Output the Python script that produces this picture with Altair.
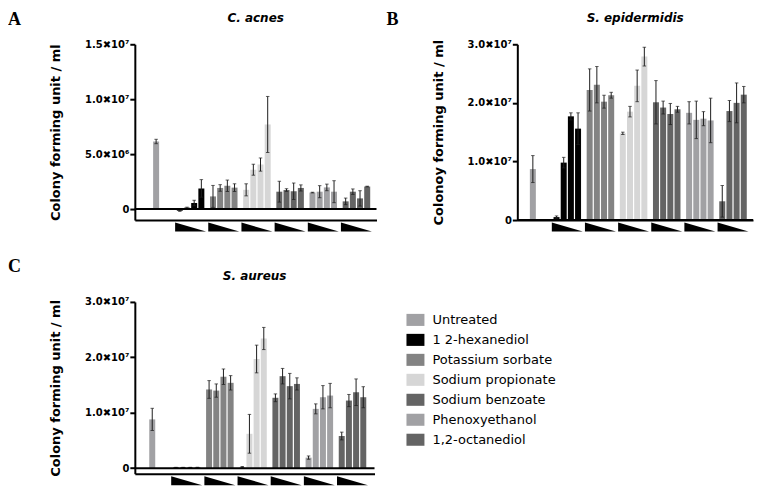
import altair as alt
import pandas as pd

# ---------------- data ----------------
CATEGORIES = ["Untreated", "1 2-hexanediol", "Potassium sorbate", "Sodium propionate",
              "Sodium benzoate", "Phenoxyethanol", "1,2-octanediol"]
COLORS = ["#a1a1a4", "#000000", "#838383", "#d6d6d6", "#646464", "#a1a1a4", "#646464"]

# Panel A: C. acnes  (values in units of 1e6 CFU/ml)
A_UNIT = 1e6
A_UNTREATED = 6.15
A_UNTREATED_ERR = 0.2
A_MEANS = [
    [-0.15, 0.12, 0.55, 1.88],   # 1 2-hexanediol
    [1.15, 1.92, 2.12, 1.95],    # Potassium sorbate
    [1.75, 3.58, 4.05, 7.70],    # Sodium propionate
    [1.58, 1.73, 1.62, 1.92],    # Sodium benzoate
    [1.50, 1.58, 1.97, 1.58],    # Phenoxyethanol
    [0.70, 1.58, 0.97, 2.05],    # 1,2-octanediol
]
A_ERRS = [
    [0.06, 0.05, 0.25, 0.80],
    [1.00, 0.30, 0.52, 0.35],
    [0.55, 0.50, 0.60, 2.55],
    [0.95, 0.12, 0.75, 0.28],
    [0.03, 0.55, 0.30, 1.00],
    [0.30, 0.25, 0.70, 0.03],
]
A_TICKS = [0, 5000000, 10000000, 15000000]
A_TICK_LABELS = ["0", "5.0✖10⁶", "1.0✖10⁷", "1.5✖10⁷"]

# Panel B: S. epidermidis (units of 1e7 CFU/ml)
B_UNIT = 1e7
B_UNTREATED = 0.87
B_UNTREATED_ERR = 0.23
B_MEANS = [
    [0.05, 0.98, 1.77, 1.56],
    [2.22, 2.31, 2.02, 2.13],
    [1.48, 1.85, 2.29, 2.79],
    [2.01, 1.92, 1.81, 1.89],
    [1.83, 1.71, 1.73, 1.70],
    [0.32, 1.86, 2.00, 2.14],
]
B_ERRS = [
    [0.02, 0.09, 0.06, 0.27],
    [0.36, 0.31, 0.11, 0.05],
    [0.02, 0.09, 0.27, 0.16],
    [0.37, 0.11, 0.18, 0.05],
    [0.19, 0.32, 0.12, 0.38],
    [0.27, 0.18, 0.34, 0.14],
]
B_TICKS = [0, 10000000, 20000000, 30000000]
B_TICK_LABELS = ["0", "1.0✖10⁷", "2.0✖10⁷", "3.0✖10⁷"]

# Panel C: S. aureus (units of 1e7 CFU/ml)
C_UNIT = 1e7
C_UNTREATED = 0.88
C_UNTREATED_ERR = 0.20
C_MEANS = [
    [0.01, 0.01, 0.01, 0.01],
    [1.42, 1.40, 1.65, 1.54],
    [0.02, 0.62, 1.97, 2.34],
    [1.27, 1.66, 1.48, 1.52],
    [0.19, 1.07, 1.28, 1.31],
    [0.58, 1.22, 1.37, 1.28],
]
C_ERRS = [
    [0.005, 0.005, 0.005, 0.005],
    [0.16, 0.12, 0.14, 0.13],
    [0.01, 0.35, 0.25, 0.20],
    [0.07, 0.14, 0.23, 0.11],
    [0.03, 0.09, 0.21, 0.22],
    [0.07, 0.11, 0.24, 0.19],
]
C_TICKS = [0, 10000000, 20000000, 30000000]
C_TICK_LABELS = ["0", "1.0✖10⁷", "2.0✖10⁷", "3.0✖10⁷"]

# ---------------- layout ----------------
GROUP_START = 3.3
GROUP_PITCH = 4.62
TRI_PATH = "M-1,-0.29L-1,0.29L1,0.29Z"
RECT_PATH = "M-1,-0.67L1,-0.67L1,0.67L-1,0.67Z"
FONT = "DejaVu Sans"


def build_df(untreated, untreated_err, means, errs, unit):
    rows = [dict(pos=0.0, cat=CATEGORIES[0], mean=untreated * unit,
                 lo=(untreated - untreated_err) * unit, hi=(untreated + untreated_err) * unit)]
    for g in range(6):
        for j in range(4):
            m, e = means[g][j], errs[g][j]
            rows.append(dict(pos=GROUP_START + g * GROUP_PITCH + j, cat=CATEGORIES[g + 1],
                             mean=m * unit, lo=(m - e) * unit, hi=(m + e) * unit))
    return pd.DataFrame(rows)


def label_expr(vals, labs):
    return ("[" + ",".join("'%s'" % l for l in labs) + "][indexof(["
            + ",".join(str(v) for v in vals) + "], datum.value)]")


def panel(letter, letter_dx, letter_dy, title, ytitle, df, y_domain, ticks, tick_labels,
          x_domain, width, height, legend=None):
    xs = alt.Scale(domain=x_domain, nice=False, zero=False)
    ys = alt.Scale(domain=y_domain, nice=False, zero=False)
    x_axis = alt.Axis(labels=False, ticks=False, grid=False, domainWidth=2, domainColor="black")
    y_axis = alt.Axis(values=ticks, labelExpr=label_expr(ticks, tick_labels), grid=False,
                      domainWidth=2, domainColor="black", tickWidth=2, tickSize=5,
                      tickColor="black", labelFont=FONT, labelFontWeight="bold",
                      labelFontSize=10, labelColor="black", labelPadding=1,
                      titleFont=FONT, titleFontWeight="bold", titleFontSize=13,
                      titleColor="black", titlePadding=22)
    base = alt.Chart(df)
    bars = base.mark_bar(size=6).encode(
        x=alt.X("pos:Q", scale=xs, axis=x_axis, title=None),
        y=alt.Y("mean:Q", scale=ys, axis=y_axis, title=ytitle),
        y2=alt.datum(0),
        color=alt.Color("cat:N", scale=alt.Scale(domain=CATEGORIES, range=COLORS), legend=legend),
    )
    err = base.mark_rule(color="#1e1e1e", strokeWidth=1).encode(
        x=alt.X("pos:Q", title=None), y=alt.Y("lo:Q", title=ytitle), y2="hi:Q")
    cap_lo = base.mark_tick(orient="horizontal", size=3.5, thickness=1, color="#1e1e1e").encode(
        x=alt.X("pos:Q", title=None), y=alt.Y("lo:Q", title=ytitle))
    cap_hi = base.mark_tick(orient="horizontal", size=3.5, thickness=1, color="#1e1e1e").encode(
        x=alt.X("pos:Q", title=None), y=alt.Y("hi:Q", title=ytitle))
    zero = alt.Chart(pd.DataFrame({"z": [0]})).mark_rule(color="black", strokeWidth=2).encode(
        y=alt.Y("z:Q", title=ytitle))
    tri_df = pd.DataFrame({"gpos": [GROUP_START + g * GROUP_PITCH + 1.5 for g in range(6)]})
    tri = alt.Chart(tri_df).mark_point(shape=TRI_PATH, filled=True, fill="black", strokeWidth=0,
                                       size=961, opacity=1).encode(
        x=alt.X("gpos:Q", title=None), y=alt.value(height + 7))
    let = alt.Chart(pd.DataFrame({"t": [letter]})).mark_text(
        align="left", baseline="top", font="Liberation Serif", fontSize=18, fontWeight="bold",
        color="black").encode(text="t:N", x=alt.value(letter_dx), y=alt.value(letter_dy))
    ttl = alt.Chart(pd.DataFrame({"t": [title]})).mark_text(
        align="center", baseline="alphabetic", font=FONT, fontSize=12, fontWeight="bold",
        fontStyle="italic", color="black").encode(text="t:N", x=alt.value(width / 2), y=alt.value(-22))
    return alt.layer(bars, err, cap_lo, cap_hi, zero, tri, let, ttl).properties(width=width, height=height)


dfA = build_df(A_UNTREATED, A_UNTREATED_ERR, A_MEANS, A_ERRS, A_UNIT)
dfB = build_df(B_UNTREATED, B_UNTREATED_ERR, B_MEANS, B_ERRS, B_UNIT)
dfC = build_df(C_UNTREATED, C_UNTREATED_ERR, C_MEANS, C_ERRS, C_UNIT)

chartA = panel("A", -127, -33, "C. acnes", "Colony forming unit / ml", dfA, [-1e6, 1.5e7],
               A_TICKS, A_TICK_LABELS, [-2.27, 30.0], 242, 176)
chartB = panel("B", -131, -33, "S. epidermidis", "Colonoy forming unit / ml", dfB, [0, 3e7],
               B_TICKS, B_TICK_LABELS, [-1.47, 29.99], 236, 176)
legendC = alt.Legend(orient="none", legendX=272, legendY=9, title=None, symbolType=RECT_PATH,
                     symbolSize=324, symbolStrokeWidth=0, symbolOpacity=1, labelFont=FONT,
                     labelFontSize=13, labelColor="black", labelOffset=8, rowPadding=4)
chartC = panel("C", -127, -44, "S. aureus", "Colony forming unit / ml", dfC, [-1e6, 3e7],
               C_TICKS, C_TICK_LABELS, [-1.73, 30.27], 240, 172, legend=legendC)

chart = alt.concat(chartA, chartB, chartC, columns=2, bounds="flush",
                   spacing={"row": 82, "column": 141}).resolve_scale(
    color="independent").resolve_legend(color="independent").properties(
    padding={"top": 3, "left": 0, "right": 0, "bottom": 0}).configure_view(stroke=None)

chart.save("out.html", embed_options={"renderer": "svg", "actions": False})
